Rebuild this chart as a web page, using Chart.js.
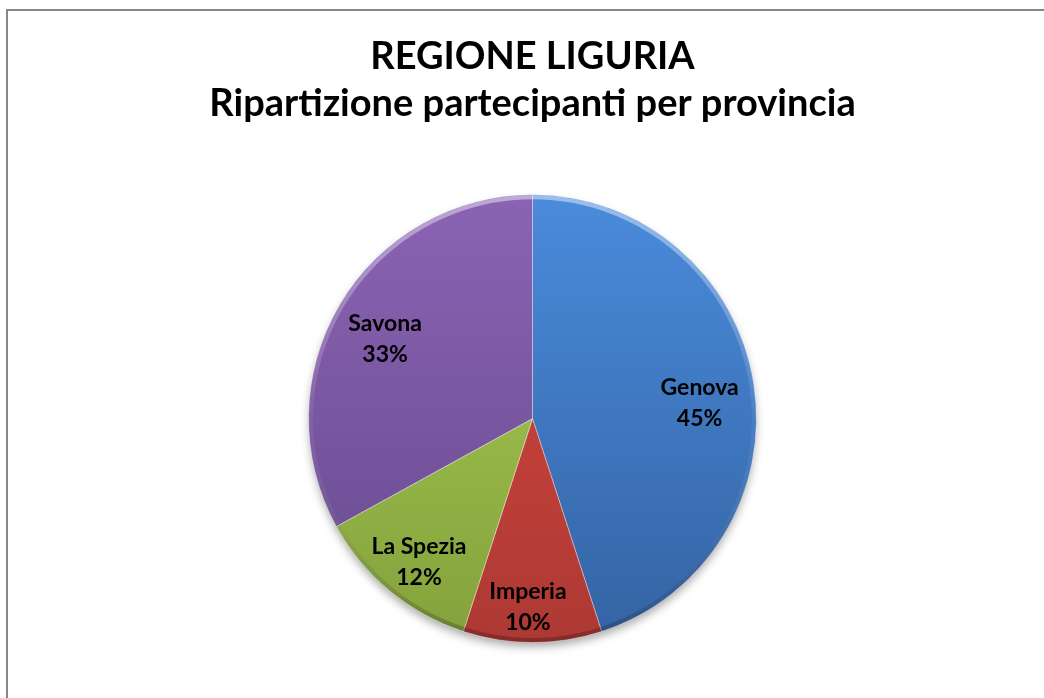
<!DOCTYPE html>
<html>
<head>
<meta charset="utf-8">
<script src="https://cdn.jsdelivr.net/npm/chart.js@4/dist/chart.umd.min.js"></script>
<style>
html, body { margin: 0; padding: 0; background: #fff; }
#wrap { width: 1044px; height: 698px; position: relative; }
</style>
</head>
<body>
<div id="wrap"><canvas id="pie"></canvas></div>
<script>
'use strict';
var provinces = ['Genova', 'Imperia', 'La Spezia', 'Savona'];
var shares = [45, 10, 12, 33];
var titleLines = ['REGIONE LIGURIA', 'Ripartizione partecipanti per provincia'];

var topColors = ['#4a8bdb', '#d9463f', '#abcd56', '#8b63b4'];
var bottomColors = ['#3463a3', '#ad3934', '#83a23c', '#664a8d'];

function sliceFill(ctx) {
  var i = ctx.dataIndex;
  var area = ctx.chart.chartArea;
  if (!area) return topColors[i];
  var g = ctx.chart.ctx.createLinearGradient(0, area.top, 0, area.bottom);
  g.addColorStop(0, topColors[i]);
  g.addColorStop(1, bottomColors[i]);
  return g;
}

// grey frame line along top and left side
var frame = {
  id: 'frame',
  beforeDraw: function(chart) {
    var ctx = chart.ctx;
    ctx.save();
    ctx.strokeStyle = '#868686';
    ctx.lineWidth = 2;
    ctx.beginPath();
    ctx.moveTo(7, 698);
    ctx.lineTo(7, 10);
    ctx.lineTo(1044, 10);
    ctx.stroke();
    ctx.restore();
  }
};

// soft shadow under the pie + bevel on the rim
var pieShadow = {
  id: 'pieShadow',
  beforeDatasetsDraw: function(chart) {
    var arc = chart.getDatasetMeta(0).data[0];
    if (!arc) return;
    var ctx = chart.ctx;
    ctx.save();
    ctx.shadowColor = 'rgba(0,0,0,0.35)';
    ctx.shadowBlur = 10;
    ctx.shadowOffsetY = 5;
    ctx.fillStyle = '#fff';
    ctx.beginPath();
    ctx.arc(arc.x, arc.y, arc.outerRadius - 1, 0, Math.PI * 2);
    ctx.fill();
    ctx.restore();
  },
  afterDatasetsDraw: function(chart) {
    var arc = chart.getDatasetMeta(0).data[0];
    if (!arc) return;
    var ctx = chart.ctx;
    var g = ctx.createLinearGradient(0, arc.y - arc.outerRadius, 0, arc.y + arc.outerRadius);
    g.addColorStop(0, 'rgba(255,255,255,0.45)');
    g.addColorStop(0.5, 'rgba(255,255,255,0.05)');
    g.addColorStop(1, 'rgba(0,0,0,0.25)');
    ctx.save();
    ctx.strokeStyle = g;
    ctx.lineWidth = 4;
    ctx.beginPath();
    ctx.arc(arc.x, arc.y, arc.outerRadius - 2.5, 0, Math.PI * 2);
    ctx.stroke();
    ctx.restore();
  }
};

var sliceLabels = {
  id: 'sliceLabels',
  afterDatasetsDraw: function(chart, args, opts) {
    var ctx = chart.ctx;
    var meta = chart.getDatasetMeta(0);
    var total = 0;
    for (var k = 0; k < shares.length; k++) total += shares[k];
    ctx.save();
    ctx.font = opts.font;
    ctx.fillStyle = '#000';
    ctx.textAlign = 'center';
    ctx.textBaseline = 'middle';
    meta.data.forEach(function(arc, i) {
      var mid = (arc.startAngle + arc.endAngle) / 2 + opts.turn[i] * Math.PI / 180;
      var r = arc.outerRadius * opts.radius[i];
      var x = arc.x + Math.cos(mid) * r;
      var y = arc.y + Math.sin(mid) * r;
      ctx.fillText(provinces[i], x, y - 15);
      ctx.fillText(Math.round(shares[i] / total * 100) + '%', x, y + 16);
    });
    ctx.restore();
  }
};

new Chart(document.getElementById('pie'), {
  type: 'pie',
  data: {
    labels: provinces,
    datasets: [{
      data: shares,
      backgroundColor: sliceFill,
      borderColor: 'rgba(255,255,255,0.35)',
      borderWidth: 1
    }]
  },
  options: {
    responsive: true,
    maintainAspectRatio: false,
    animation: false,
    layout: { padding: { left: 21, right: 0, top: 0, bottom: 55 } },
    plugins: {
      legend: { display: false },
      tooltip: { enabled: false },
      title: {
        display: true,
        text: titleLines,
        color: '#000',
        font: { family: 'Lato', size: 38, weight: 'bold', lineHeight: 1.24 },
        padding: { top: 33, bottom: 67 }
      },
      sliceLabels: {
        font: 'bold 23px Lato',
        radius: [0.75, 0.84, 0.816, 0.75],
        turn: [3.5, 1.4, -1.2, -2]
      }
    }
  },
  plugins: [frame, pieShadow, sliceLabels]
});
</script>
</body>
</html>
